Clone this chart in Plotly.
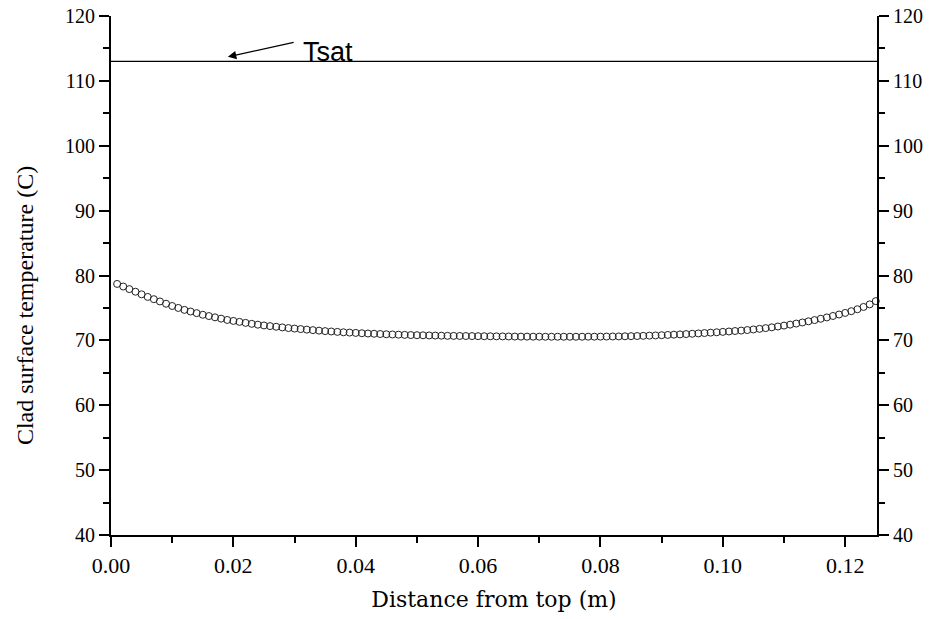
import plotly.graph_objects as go

# Axial positions along the clad (m)
distance = [
    0.001, 0.002, 0.003, 0.004, 0.005, 0.006, 0.007, 0.008, 0.009, 0.010,
    0.011, 0.012, 0.013, 0.014, 0.015, 0.016, 0.017, 0.018, 0.019, 0.020,
    0.021, 0.022, 0.023, 0.024, 0.025, 0.026, 0.027, 0.028, 0.029, 0.030,
    0.031, 0.032, 0.033, 0.034, 0.035, 0.036, 0.037, 0.038, 0.039, 0.040,
    0.041, 0.042, 0.043, 0.044, 0.045, 0.046, 0.047, 0.048, 0.049, 0.050,
    0.051, 0.052, 0.053, 0.054, 0.055, 0.056, 0.057, 0.058, 0.059, 0.060,
    0.061, 0.062, 0.063, 0.064, 0.065, 0.066, 0.067, 0.068, 0.069, 0.070,
    0.071, 0.072, 0.073, 0.074, 0.075, 0.076, 0.077, 0.078, 0.079, 0.080,
    0.081, 0.082, 0.083, 0.084, 0.085, 0.086, 0.087, 0.088, 0.089, 0.090,
    0.091, 0.092, 0.093, 0.094, 0.095, 0.096, 0.097, 0.098, 0.099, 0.100,
    0.101, 0.102, 0.103, 0.104, 0.105, 0.106, 0.107, 0.108, 0.109, 0.110,
    0.111, 0.112, 0.113, 0.114, 0.115, 0.116, 0.117, 0.118, 0.119, 0.120,
    0.121, 0.122, 0.123, 0.124, 0.125,
]

# Clad surface temperature (C)
clad_temp = [
    78.70, 78.30, 77.90, 77.50, 77.10, 76.70, 76.35, 76.00, 75.65, 75.30,
    75.00, 74.70, 74.45, 74.20, 73.95, 73.75, 73.55, 73.35, 73.15, 73.00,
    72.85, 72.70, 72.55, 72.42, 72.30, 72.20, 72.10, 72.00, 71.90, 71.82,
    71.74, 71.66, 71.58, 71.50, 71.43, 71.37, 71.31, 71.25, 71.20, 71.15,
    71.10, 71.06, 71.02, 70.98, 70.94, 70.91, 70.88, 70.85, 70.82, 70.80,
    70.78, 70.76, 70.74, 70.72, 70.70, 70.69, 70.68, 70.67, 70.66, 70.65,
    70.64, 70.63, 70.62, 70.61, 70.60, 70.59, 70.58, 70.58, 70.57, 70.57,
    70.56, 70.56, 70.56, 70.56, 70.56, 70.56, 70.56, 70.57, 70.57, 70.58,
    70.59, 70.60, 70.61, 70.63, 70.65, 70.67, 70.70, 70.73, 70.76, 70.80,
    70.84, 70.88, 70.92, 70.97, 71.02, 71.07, 71.13, 71.19, 71.25, 71.31,
    71.37, 71.44, 71.51, 71.59, 71.68, 71.78, 71.89, 72.01, 72.14, 72.28,
    72.43, 72.59, 72.76, 72.94, 73.13, 73.33, 73.54, 73.76, 73.99, 74.23,
    74.50, 74.80, 75.15, 75.55, 76.05,
]

# Saturation temperature (C)
t_sat = 113.0

x_range = [0.0, 0.1252]
y_range = [40, 120]
y_ticks = [40, 50, 60, 70, 80, 90, 100, 110, 120]
x_ticks = [0.00, 0.02, 0.04, 0.06, 0.08, 0.10, 0.12]

serif = "Liberation Serif, Times New Roman, serif"

fig = go.Figure()

fig.add_trace(go.Scatter(
    x=distance, y=clad_temp, mode="markers",
    marker=dict(symbol="circle-open", size=7, color="#222222",
                line=dict(width=1, color="#222222")),
    showlegend=False, cliponaxis=False,
))

fig.add_trace(go.Scatter(
    x=x_range, y=[t_sat, t_sat], mode="lines",
    line=dict(color="black", width=1.2), showlegend=False,
))

# invisible trace that anchors the right-hand temperature axis
fig.add_trace(go.Scatter(
    x=x_range, y=y_range, yaxis="y2", mode="markers",
    marker=dict(opacity=0), showlegend=False, hoverinfo="skip",
))

axis_common = dict(
    showgrid=False, zeroline=False, showline=True, linecolor="black",
    linewidth=2, ticks="outside", ticklen=10, tickwidth=2, tickcolor="black",
    automargin=False,
)

minor_y = dict(dtick=5, tick0=0, ticks="outside", ticklen=6,
               tickwidth=2, tickcolor="black")

fig.update_layout(
    width=932, height=619,
    margin=dict(l=111, r=55, t=16, b=84),
    paper_bgcolor="white", plot_bgcolor="white",
    xaxis=dict(
        range=x_range, tickvals=x_ticks, tickformat=".2f",
        tickfont=dict(family=serif, size=22, color="black"),
        minor=dict(dtick=0.01, tick0=0, ticks="outside", ticklen=6,
                   tickwidth=2, tickcolor="black"),
        title=dict(text="Distance from top (m)", standoff=14,
                   font=dict(family="DejaVu Serif, serif", size=22,
                             color="black")),
        **axis_common,
    ),
    yaxis=dict(
        range=y_range, tickvals=y_ticks,
        tickfont=dict(family=serif, size=20, color="black"),
        minor=minor_y,
        **axis_common,
    ),
    yaxis2=dict(
        range=y_range, tickvals=y_ticks, overlaying="y", side="right",
        tickfont=dict(family=serif, size=20, color="black"),
        minor=minor_y,
        **axis_common,
    ),
)

# vertical axis title, placed slightly below the plot centre
fig.add_annotation(
    x=-0.1123, y=0.443, xref="paper", yref="paper",
    text="Clad surface temperature (C)", textangle=-90, showarrow=False,
    xanchor="center", yanchor="middle",
    font=dict(family=serif, size=24, color="black"),
)

# arrow pointing at the saturation line
fig.add_annotation(
    x=0.0191, y=113.7, ax=0.0301, ay=116.0, xref="x", yref="y",
    axref="x", ayref="y", text="", showarrow=True,
    arrowhead=2, arrowsize=1.3, arrowwidth=1.3, arrowcolor="black",
)
fig.add_annotation(
    x=0.0311, y=114.45, xref="x", yref="y", text="Tsat", showarrow=False,
    xanchor="left", yanchor="middle",
    font=dict(family="Liberation Sans, Arial, sans-serif", size=27,
              color="black"),
)

fig.write_html("out.html")
